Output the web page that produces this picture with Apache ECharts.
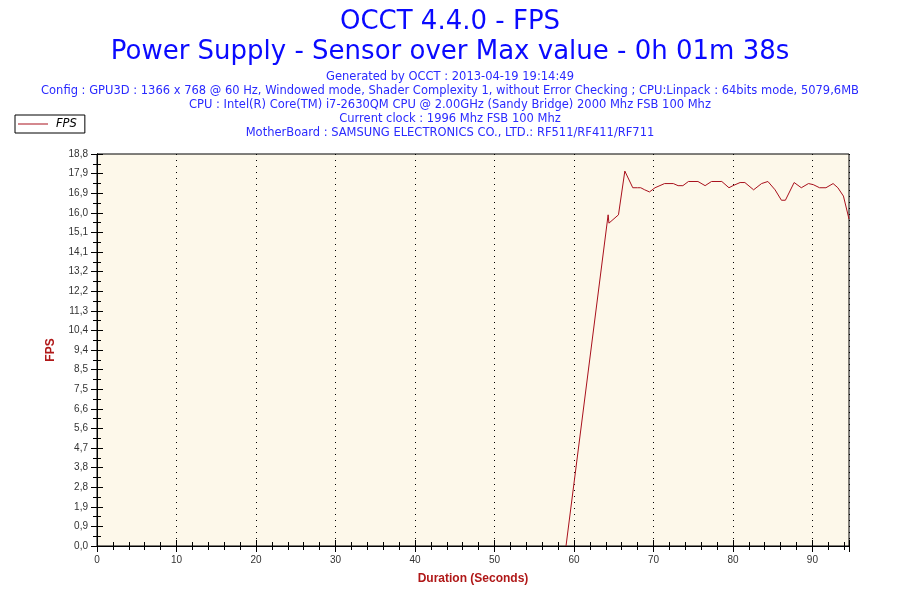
<!DOCTYPE html>
<html>
<head>
<meta charset="utf-8">
<script src="https://cdn.jsdelivr.net/npm/echarts@6/dist/echarts.min.js"></script>
<style>
  html, body { margin: 0; padding: 0; background: #fff; }
  #chart { width: 900px; height: 600px; }
</style>
</head>
<body>
<div id="chart"></div>
<script>
var myChart = echarts.init(document.getElementById('chart'));

// seconds since start of the log
var times = [59.0, 64.3, 64.4, 65.6, 66.4, 67.4, 68.0, 68.4, 68.9, 69.5,
             70.2, 71.4, 72.5, 73.1, 73.7, 74.4, 75.6, 76.5, 77.3, 78.6,
             79.5, 80.0, 80.9, 81.5, 82.6, 83.6, 84.4, 85.3, 86.1, 86.6,
             87.7, 88.6, 89.5, 90.1, 90.9, 91.7, 92.6, 93.2, 93.9, 94.6];
var fps = [0, 15.9, 15.5, 15.9, 18.0, 17.2, 17.2, 17.2, 17.1, 17.0,
           17.2, 17.4, 17.4, 17.3, 17.3, 17.5, 17.5, 17.3, 17.5, 17.5,
           17.2, 17.3, 17.45, 17.45, 17.1, 17.4, 17.5, 17.1, 16.6, 16.6,
           17.45, 17.2, 17.4, 17.35, 17.2, 17.2, 17.4, 17.2, 16.8, 15.7];

var headerLines = [
    'Generated by OCCT : 2013-04-19 19:14:49',
    'Config : GPU3D : 1366 x 768 @ 60 Hz, Windowed mode, Shader Complexity 1, without Error Checking ; CPU:Linpack : 64bits mode, 5079,6MB',
    'CPU : Intel(R) Core(TM) i7-2630QM CPU @ 2.00GHz (Sandy Bridge) 2000 Mhz FSB 100 Mhz',
    'Current clock : 1996 Mhz FSB 100 Mhz',
    'MotherBoard : SAMSUNG ELECTRONICS CO., LTD.: RF511/RF411/RF711'
];

var yMax = 18.82, yStep = 0.941;
var xMax = 94.6, xStep = 10;
var lineColor = '#a8101c';

var seriesData = times.map(function (t, i) { return [t, fps[i]]; });

var titles = [
    {text: 'OCCT 4.4.0 - FPS', left: 'center', top: 4,
     textStyle: {fontFamily: 'DejaVu Sans', fontSize: 26, fontWeight: 'normal', color: '#0a0aff'}},
    {text: 'Power Supply - Sensor over Max value - 0h 01m 38s', left: 'center', top: 34,
     textStyle: {fontFamily: 'DejaVu Sans', fontSize: 26, fontWeight: 'normal', color: '#0a0aff'}}
];
headerLines.forEach(function (line, i) {
    titles.push({
        text: line, left: 'center', top: 71.5 + i * 13.9, padding: 0,
        textStyle: {fontFamily: 'DejaVu Sans', fontSize: 11.5, fontWeight: 'normal', color: '#2a2aff'}
    });
});

function yLabel(v) { return v.toFixed(1).replace('.', ','); }

var labelStyle = {fontFamily: 'Liberation Sans', fontSize: 10, color: '#333'};

function makeX(inside) {
    return {
        type: 'value', min: 0, max: xMax, interval: xStep, position: 'bottom',
        name: inside ? '' : 'Duration (Seconds)',
        nameLocation: 'middle', nameGap: 27,
        nameTextStyle: {fontFamily: 'Liberation Sans', fontSize: 12, fontWeight: 'bold', color: '#b01818'},
        axisLine: {show: true, lineStyle: {color: '#000', width: 1}},
        axisTick: {show: true, inside: inside, length: 6, lineStyle: {color: '#000'}},
        minorTick: {show: true, splitNumber: 5, length: 4, lineStyle: {color: '#000'}},
        axisLabel: {show: !inside, margin: 9, showMaxLabel: false, textStyle: labelStyle},
        splitLine: {show: !inside, lineStyle: {color: '#000', type: [1, 5], width: 1}}
    };
}
function makeY(inside) {
    return {
        type: 'value', min: 0, max: yMax, interval: yStep, position: 'left',
        name: inside ? '' : 'FPS',
        nameLocation: 'middle', nameGap: 40,
        nameTextStyle: {fontFamily: 'Liberation Sans', fontSize: 12, fontWeight: 'bold', color: '#b01818'},
        axisLine: {show: true, lineStyle: {color: '#000', width: 1}},
        axisTick: {show: true, inside: inside, length: 6, lineStyle: {color: '#000'}},
        minorTick: {show: true, splitNumber: 2, length: 4, lineStyle: {color: '#000'}},
        axisLabel: {show: !inside, margin: 9, formatter: yLabel, textStyle: labelStyle},
        splitLine: {show: false}
    };
}

option = {
    backgroundColor: '#fff',
    animation: false,
    title: titles,
    legend: {
        left: 15, top: 115,
        orient: 'vertical',
        data: [{name: 'FPS', icon: 'rect', itemStyle: {color: lineColor, borderWidth: 0}}],
        backgroundColor: '#fff',
        borderColor: '#000', borderWidth: 1, borderRadius: 0,
        padding: [3, 8, 3, 3],
        itemWidth: 30, itemHeight: 1, itemGap: 0,
        textStyle: {fontFamily: 'DejaVu Sans', fontSize: 11.5, fontStyle: 'italic', color: '#000', padding: [0, 0, 0, 3]}
    },
    grid: {
        left: 97, right: 51, top: 154, bottom: 54,
        show: true, backgroundColor: '#fdf8ea', borderColor: '#000', borderWidth: 1
    },
    xAxis: [makeX(false), makeX(true)],
    yAxis: [makeY(false), makeY(true)],
    series: [
        {
            name: 'FPS', type: 'line',
            xAxisIndex: 0, yAxisIndex: 0,
            symbol: 'none',
            lineStyle: {color: lineColor, width: 1},
            itemStyle: {color: lineColor},
            data: seriesData
        }
    ]
};

myChart.setOption(option);
</script>
</body>
</html>
